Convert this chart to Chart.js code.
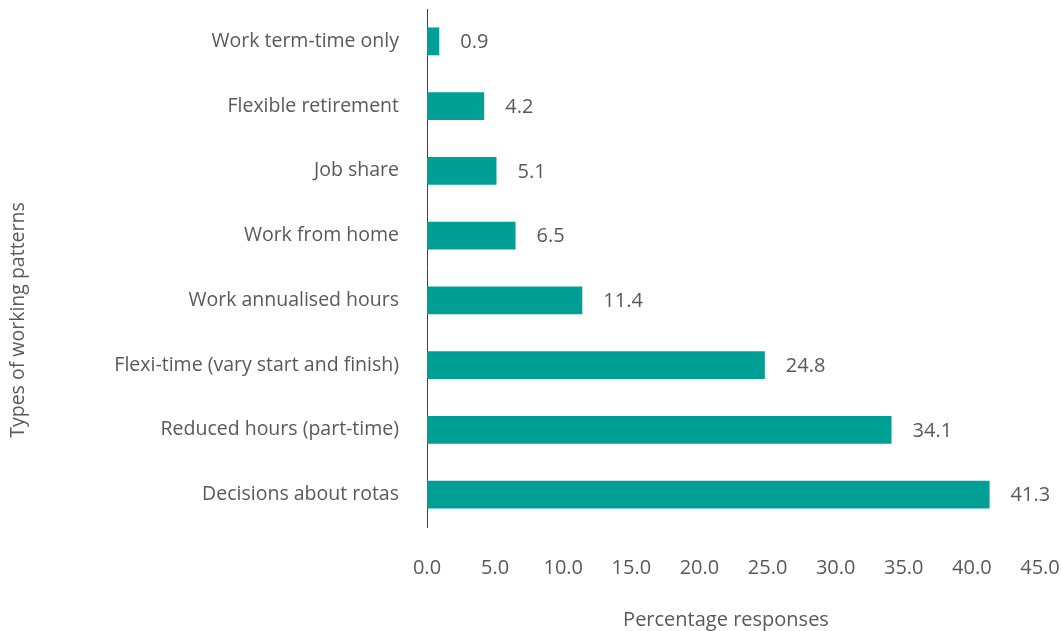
<!DOCTYPE html>
<html>
<head>
<meta charset="utf-8">
<script src="https://cdn.jsdelivr.net/npm/chart.js@4/dist/chart.umd.min.js"></script>
<style>
  html, body { margin: 0; padding: 0; background: #fff; }
  #wrap { width: 1061px; height: 631px; position: relative; }
</style>
</head>
<body>
<div id="wrap"><canvas id="chart"></canvas></div>
<script>
// working patterns, top to bottom
const patterns = [
  "Work term-time only",
  "Flexible retirement",
  "Job share",
  "Work from home",
  "Work annualised hours",
  "Flexi-time (vary start and finish)",
  "Reduced hours (part-time)",
  "Decisions about rotas"
];
const responses = [0.9, 4.2, 5.1, 6.5, 11.4, 24.8, 34.1, 41.3];
const xTicks = [0, 5, 10, 15, 20, 25, 30, 35, 40, 45];
const xTitle = "Percentage responses";
const yTitle = "Types of working patterns";

const textColor = "#595959";
const family = "'Open Sans', sans-serif";

// value printed just past the end of each bar, plus both axis titles
const annotations = {
  id: "annotations",
  afterDatasetsDraw(chart) {
    const ctx = chart.ctx;
    const meta = chart.getDatasetMeta(0);
    ctx.save();
    ctx.font = "20px " + family;
    ctx.fillStyle = textColor;
    ctx.textAlign = "left";
    ctx.textBaseline = "middle";
    meta.data.forEach((bar, i) => {
      ctx.fillText(responses[i].toFixed(1), bar.x + 21, bar.y + 1);
    });

    ctx.textAlign = "center";
    ctx.fillText(xTitle, 726, 620);

    ctx.font = "19.5px " + family;
    ctx.translate(18, 320);
    ctx.rotate(-Math.PI / 2);
    ctx.fillText(yTitle, 0, 0);
    ctx.restore();
  }
};

new Chart(document.getElementById("chart"), {
  type: "bar",
  data: {
    labels: patterns,
    datasets: [{
      data: responses,
      backgroundColor: "#009f95",
      barPercentage: 0.86,
      categoryPercentage: 0.5
    }]
  },
  options: {
    indexAxis: "y",
    responsive: true,
    maintainAspectRatio: false,
    animation: false,
    layout: { padding: { top: 9, right: 21, left: 0, bottom: 0 } },
    plugins: { legend: { display: false }, tooltip: { enabled: false } },
    scales: {
      x: {
        min: 0,
        max: 45,
        afterBuildTicks(scale) {
          scale.ticks = xTicks.map(v => ({ value: v }));
        },
        afterFit(scale) {
          scale.height = 104;
          scale.paddingLeft = 0;
          scale.paddingRight = 0;
        },
        grid: { display: false, drawTicks: false },
        border: { display: false },
        ticks: {
          color: textColor,
          font: { family: family, size: 20 },
          padding: 29,
          maxRotation: 0,
          callback: v => Number(v).toFixed(1)
        }
      },
      y: {
        afterFit(scale) {
          scale.width = 427;
          scale.paddingTop = 0;
          scale.paddingBottom = 0;
        },
        grid: { display: false, drawTicks: false },
        border: { display: true, color: "#404040", width: 1 },
        ticks: { color: textColor, font: { family: family, size: 19.5 }, padding: 28 }
      }
    }
  },
  plugins: [annotations]
});
</script>
</body>
</html>
